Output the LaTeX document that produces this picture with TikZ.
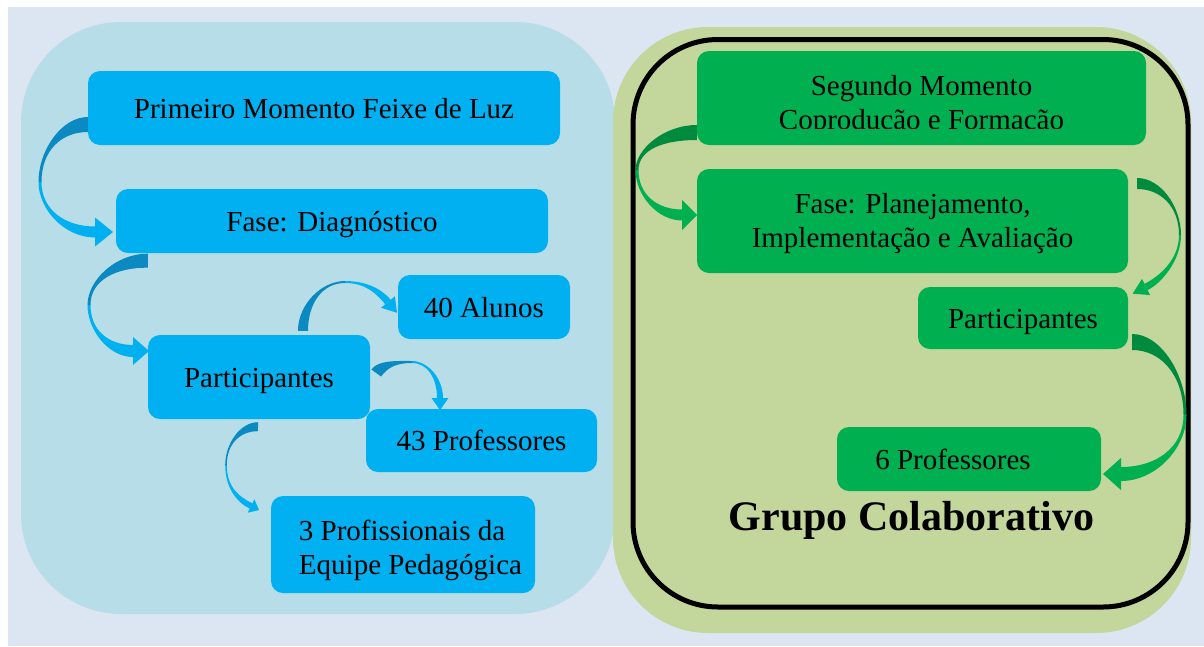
\documentclass[tikz,border=0pt]{standalone}
\usepackage{fontspec}
\setmainfont{Liberation Serif}
\usetikzlibrary{calc}
\definecolor{bgc}{HTML}{DCE6F2}
\definecolor{bluepanel}{HTML}{B7DEE8}
\definecolor{bluebox}{HTML}{00B0F0}
\definecolor{bluedark}{HTML}{0A8AC0}
\definecolor{greenpanel}{HTML}{C3D69B}
\definecolor{greenbox}{HTML}{00B050}
\definecolor{greendark}{HTML}{008A3E}
% ribbon segment: colour, P0, P1, P2, P3, half width at start, half width at end
\newcommand\ribseg[7]{\fill[#1] ($#2!#6!90:#3$) .. controls ($#3!#6!-90:#2$) and ($#4!#7!90:#5$) .. ($#5!#7!-90:#4$) -- ($#5!-#7!-90:#4$) .. controls ($#4!-#7!90:#5$) and ($#3!-#6!-90:#2$) .. ($#2!-#6!90:#3$) -- cycle;}
% arrow head: colour, previous control point, base centre, half width, length
\newcommand\ahead[5]{\fill[#1] ($#3!#4!90:#2$) -- ($#3!-#5!#2$) -- ($#3!-#4!90:#2$) -- cycle;}
\tikzset{
  box/.style={rectangle, rounded corners=12pt, inner sep=0pt, text height=20pt, text depth=0pt, font=\fontsize{29}{34}\selectfont, text=black},
  bbox/.style={box, fill=bluebox},
  gbox/.style={box, fill=greenbox},
}
\begin{document}
\begin{tikzpicture}[x=1pt,y=-1pt]
\useasboundingbox (0,0) rectangle (1204,646);
\fill[white] (0,0) rectangle (1204,646);
\fill[bgc] (8,7) rectangle (1204,646);
\fill[bluepanel, rounded corners=100pt] (21,22) rectangle (615,614);
\fill[greenpanel, rounded corners=95pt] (613,27) rectangle (1191,633);
\draw[line width=5pt, rounded corners=85pt] (633,39.5) rectangle (1188,607);

% left boxes
\node[bbox, minimum width=472pt, minimum height=74pt] (n1) at (324,108) {Primeiro Momento Feixe de Luz};
\node[bbox, minimum width=432pt, minimum height=64pt] (n2) at (332,221) {Fase: Diagnóstico};
\node[bbox, minimum width=222pt, minimum height=84pt] (n3) at (259,377) {Participantes};
\node[bbox, minimum width=172pt, minimum height=64pt] (n4) at (484,307) {40 Alunos};
\node[bbox, minimum width=231pt, minimum height=63pt] (n5) at (481.5,440.5) {43 Professores};
\node[bbox, minimum width=264pt, minimum height=97pt, text depth=29pt] (n6) at (403,544.5) {\hspace*{15pt}\begin{tabular}[t]{@{}l@{}}3 Profissionais da\\Equipe Pedagógica\end{tabular}};

% right boxes
\node[gbox, minimum width=449pt, minimum height=94pt] (g1) at (921.5,98) {};
\begin{scope}
\clip (690,40) rectangle (1150,128.3);
\node[box, text depth=26pt] (g1t) at (g1.center) {\begin{tabular}[t]{@{}c@{}}Segundo Momento\\Coprodução e Formação\end{tabular}};
\end{scope}
\node[gbox, minimum width=431pt, minimum height=104pt, text depth=35.4pt] (g2) at (912.5,221) {\begin{tabular}[t]{@{}c@{}}Fase: Planejamento,\\Implementação e Avaliação\end{tabular}};
\node[gbox, minimum width=210pt, minimum height=62pt] (g3) at (1023,318) {Participantes};
\node[gbox, minimum width=264pt, minimum height=64pt] (g4) at (969,459) {6 Professores\hspace*{32pt}};
\node[font=\fontsize{42}{48}\selectfont\bfseries, anchor=base, inner sep=0pt] (grupo) at (911.5,530) {Grupo Colaborativo};

% start points of the curved arrows
\coordinate (a1s) at ($(n1.west)+(0,16.5)$);
\coordinate (a2s) at ($(n2.south west)+(32,7.5)$);
\coordinate (a3s) at ($(n3.north)+(44,-4)$);
\coordinate (a4s) at ($(n3.east)+(6,-4)$);
\coordinate (a5s) at ($(n3.south)+(-1,7.5)$);
\coordinate (a6s) at ($(g1.west)+(0,34.5)$);
\coordinate (a7s) at ($(g2.east)+(9,-37.5)$);
\coordinate (a8s) at ($(g3.east)+(4,24)$);

% arrow 1: n1 -> n2
\ribseg{bluedark}{(a1s)}{(61.5,124.5)}{(40,150.3)}{(40,182)}{7.5pt}{1.5pt}
\ribseg{bluebox}{(40,182)}{(40,209.6)}{(64.6,232)}{(95,232)}{1.5pt}{5.5pt}
\ahead{bluebox}{(64.6,232)}{(95,232)}{14.5pt}{18pt}
% arrow 2: n2 -> n3
\ribseg{bluedark}{(a2s)}{(115.4,260.5)}{(89,280.4)}{(89,305)}{7pt}{1.5pt}
\ribseg{bluebox}{(89,305)}{(89,330.4)}{(108.7,351)}{(133,351)}{1.5pt}{6pt}
\ahead{bluebox}{(108.7,351)}{(133,351)}{14pt}{16pt}
% arrow 3: n3 -> n4
\ribseg{bluedark}{(a3s)}{(303,304)}{(321.8,282)}{(345,282)}{5pt}{1pt}
\ribseg{bluebox}{(345,282)}{(365,282)}{(378.4,290.5)}{(388,302)}{1pt}{3.5pt}
\ahead{bluebox}{(378.4,290.5)}{(388,302)}{9pt}{14pt}
% arrow 4: n3 -> n5
\ribseg{bluedark}{(a4s)}{(383.2,363.4)}{(397,362)}{(412,362)}{6pt}{1pt}
\ribseg{bluebox}{(412,362)}{(427.5,362)}{(440,378)}{(440,398)}{1pt}{3pt}
\ahead{bluebox}{(440,378)}{(440,398)}{8.5pt}{12pt}
% arrow 5: n3 -> n6
\ribseg{bluedark}{(a5s)}{(240.3,426.5)}{(226,443.7)}{(226,465)}{4.5pt}{0.8pt}
\ribseg{bluebox}{(226,465)}{(226,488)}{(238.4,499.7)}{(251,506)}{0.8pt}{3pt}
\ahead{bluebox}{(238.4,499.7)}{(251,506)}{7.5pt}{9pt}
% arrow 6: g1 -> g2
\ribseg{greendark}{(a6s)}{(664,132.5)}{(637,149.3)}{(637,170)}{7.5pt}{1.5pt}
\ribseg{greenbox}{(637,170)}{(637,194.8)}{(657.2,215)}{(682,215)}{1.5pt}{5.5pt}
\ahead{greenbox}{(657.2,215)}{(682,215)}{15pt}{15pt}
% arrow 7: g2 -> g3
\ribseg{greendark}{(a7s)}{(1160.7,183.5)}{(1180,206.6)}{(1180,235)}{5.5pt}{1pt}
\ribseg{greenbox}{(1180,235)}{(1180,260)}{(1160.4,279.8)}{(1146,287)}{1pt}{3.5pt}
\ahead{greenbox}{(1160.4,279.8)}{(1146,287)}{9pt}{15pt}
% arrow 8: g3 -> g4
\ribseg{greendark}{(a8s)}{(1161,342)}{(1185,375)}{(1185,415)}{8pt}{1.5pt}
\ribseg{greenbox}{(1185,415)}{(1185,447.6)}{(1156.3,474)}{(1121,474)}{1.5pt}{7pt}
\ahead{greenbox}{(1156.3,474)}{(1121,474)}{16pt}{18pt}
\end{tikzpicture}
\end{document}
